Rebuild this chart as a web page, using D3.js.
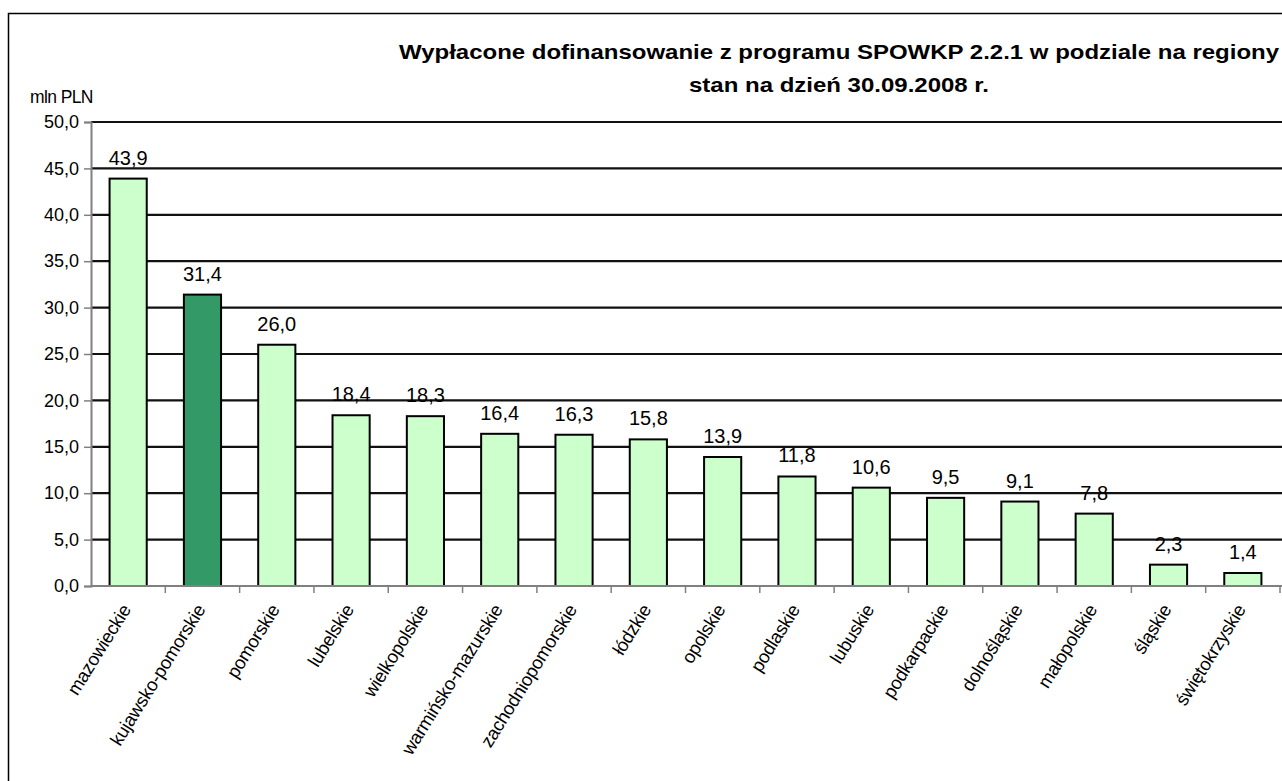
<!DOCTYPE html>
<html>
<head>
<meta charset="utf-8">
<script src="https://cdn.jsdelivr.net/npm/d3@7"></script>
<style>
  body { margin: 0; background: #fff; }
  text { font-family: "Liberation Sans", Arial, sans-serif; fill: #000; }
</style>
</head>
<body>
<div id="container"></div>
<script>
// data
var regions = ["mazowieckie", "kujawsko-pomorskie", "pomorskie", "lubelskie", "wielkopolskie",
    "warmińsko-mazurskie", "zachodniopomorskie", "łódzkie", "opolskie", "podlaskie", "lubuskie",
    "podkarpackie", "dolnośląskie", "małopolskie", "śląskie", "świętokrzyskie"];
var values = [43.9, 31.4, 26.0, 18.4, 18.3, 16.4, 16.3, 15.8, 13.9, 11.8, 10.6, 9.5, 9.1, 7.8, 2.3, 1.4];
var highlighted = ["kujawsko-pomorskie"];
var yTicks = [0, 5, 10, 15, 20, 25, 30, 35, 40, 45, 50];
var titleLines = ["Wypłacone dofinansowanie z programu SPOWKP 2.2.1 w podziale na regiony",
    "stan na dzień 30.09.2008 r."];
var unitLabel = "mln PLN";

var W = 1282, H = 781;
var fmt = function (v) { return d3.format(".1f")(v).replace(".", ","); };

let svg = d3.select('#container')
    .append('svg')
    .attr('width', W)
    .attr('height', H);

// outer frame
svg.append("rect")
    .attr("x", 8.5)
    .attr("y", 13.5)
    .attr("width", W + 20)
    .attr("height", H + 20)
    .attr("fill", "#fff")
    .attr("stroke", "#000")
    .attr("stroke-width", 1.5);

var x = d3.scaleBand()
    .domain(regions)
    .range([91, 1280])
    .paddingInner(0.5)
    .paddingOuter(0.25);

var y = d3.scaleLinear()
    .domain([0, 50])
    .range([586, 122]);

// gridlines
svg.append("g")
    .selectAll("line")
    .data(yTicks.filter(function (d) { return d > 0; }))
    .enter().append("line")
    .attr("x1", 91)
    .attr("x2", W)
    .attr("y1", function (d) { return y(d); })
    .attr("y2", function (d) { return y(d); })
    .attr("stroke", "#111")
    .attr("stroke-width", 2.2);

// y axis
var yAxis = svg.append("g")
    .attr("transform", "translate(91,0)")
    .call(d3.axisLeft(y).tickValues(yTicks).tickSize(7).tickPadding(5).tickFormat(fmt));
yAxis.select(".domain").attr("stroke", "#808080").attr("stroke-width", 2);
yAxis.selectAll(".tick line").attr("stroke", "#808080").attr("stroke-width", 1.5);
yAxis.selectAll("text")
    .style("font-size", "18px")
    .style("font-family", "Liberation Sans, Arial, sans-serif");

// bars
svg.append("g")
    .selectAll("rect")
    .data(values)
    .enter().append("rect")
    .attr("x", function (d, i) { return x(regions[i]); })
    .attr("y", function (d) { return y(d); })
    .attr("width", x.bandwidth())
    .attr("height", function (d) { return y(0) - y(d); })
    .attr("fill", function (d, i) { return highlighted.indexOf(regions[i]) >= 0 ? "#339966" : "#ccffcc"; })
    .attr("stroke", "#000")
    .attr("stroke-width", 2);

// x axis
var step = x.step();
var xAxis = svg.append("g")
    .attr("transform", "translate(0,586)");
xAxis.append("line")
    .attr("x1", 91)
    .attr("x2", W)
    .attr("stroke", "#808080")
    .attr("stroke-width", 2);
xAxis.selectAll(".tk")
    .data(regions)
    .enter().append("line")
    .attr("class", "tk")
    .attr("x1", function (d) { return x(d) + x.bandwidth() / 2 + step / 2; })
    .attr("x2", function (d) { return x(d) + x.bandwidth() / 2 + step / 2; })
    .attr("y1", 0)
    .attr("y2", 7)
    .attr("stroke", "#808080")
    .attr("stroke-width", 1.5);

svg.append("g")
    .selectAll("text")
    .data(regions)
    .enter().append("text")
    .attr("transform", function (d) {
        return "translate(" + (x(d) + x.bandwidth() / 2 - 2) + ",606) rotate(-58)";
    })
    .attr("text-anchor", "end")
    .attr("dy", "0.35em")
    .style("font-size", "18.5px")
    .style("letter-spacing", "-0.3px")
    .text(function (d) { return d; });

// value labels
svg.append("g")
    .selectAll("text")
    .data(values)
    .enter().append("text")
    .attr("x", function (d, i) { return x(regions[i]) + x.bandwidth() / 2; })
    .attr("y", function (d) { return y(d) - 14; })
    .attr("text-anchor", "middle")
    .style("font-size", "20px")
    .text(fmt);

// title
svg.append("g")
    .selectAll("g")
    .data(titleLines)
    .enter().append("g")
    .attr("transform", function (d, i) { return "translate(839," + (59 + i * 33) + ") scale(1.2,1)"; })
    .append("text")
    .attr("text-anchor", "middle")
    .style("font-size", "20px")
    .style("font-weight", "bold")
    .text(function (d) { return d; });

svg.append("text")
    .attr("x", 30)
    .attr("y", 103)
    .style("font-size", "17.5px")
    .style("letter-spacing", "-0.6px")
    .text(unitLabel);
</script>
</body>
</html>
